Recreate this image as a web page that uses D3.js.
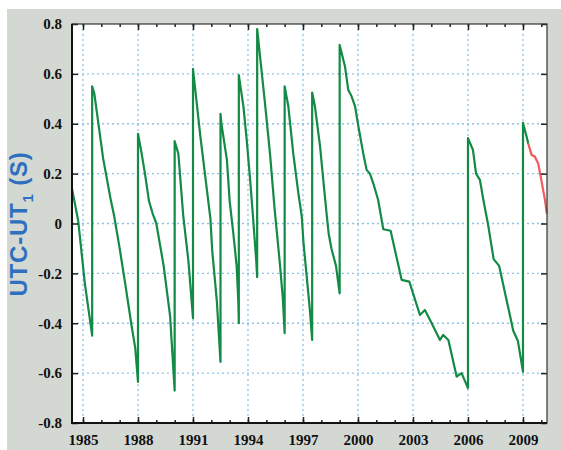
<html>
  <head>
    <meta charset="utf-8"/>
    <style>
      body { margin: 0; background: #fff; }
      .tick text { font-family: "Liberation Serif", serif; font-weight: bold; font-size: 15px; fill: #111; }
    </style>
  </head>
  <body>
    <svg></svg>
  </body>
  <script src="https://d3js.org/d3.v7.min.js"></script>
  <script>
  // measured series (year, seconds); repeated year = leap second jump
  var greenYears = [
    1984.4, 1984.74, 1985.1, 1985.5,
    1985.5, 1985.62, 1986.1, 1986.5, 1986.7, 1987.0, 1987.3, 1987.65, 1987.85, 1988.0,
    1988.0, 1988.2, 1988.4, 1988.6, 1988.8, 1989.0, 1989.4, 1989.75, 1990.0,
    1990.0, 1990.2, 1990.47, 1990.75, 1991.0,
    1991.0, 1991.4, 1991.65, 1991.95, 1992.05, 1992.3, 1992.5,
    1992.5, 1992.55, 1992.85, 1993.0, 1993.2, 1993.38, 1993.47, 1993.5,
    1993.5, 1993.75, 1993.93, 1994.1, 1994.25, 1994.35, 1994.45, 1994.5,
    1994.5, 1994.6, 1994.93, 1995.2, 1995.45, 1995.58, 1995.75, 1995.9, 1996.0,
    1996.0, 1996.2, 1996.47, 1996.75, 1996.93, 1997.03, 1997.2, 1997.38, 1997.5,
    1997.5, 1997.65, 1997.93, 1998.1, 1998.3, 1998.4, 1998.55, 1998.8, 1999.0,
    1999.0, 1999.29, 1999.47, 1999.65, 1999.84, 2000.02, 2000.29, 2000.47, 2000.65, 2000.84,
    2001.1, 2001.38, 2001.78, 2002.38, 2002.8, 2003.38, 2003.65, 2004.02, 2004.47, 2004.65,
    2004.93, 2005.38, 2005.65, 2006.0,
    2006.0, 2006.27, 2006.44, 2006.65, 2006.84, 2007.1, 2007.4, 2007.7, 2008.47, 2008.72, 2009.0,
    2009.0, 2009.1, 2009.2, 2009.29
  ];
  var greenValues = [
    0.14, 0.01, -0.24, -0.45,
    0.55, 0.52, 0.26, 0.10, 0.03, -0.10, -0.24, -0.41, -0.50, -0.635,
    0.36, 0.28, 0.19, 0.09, 0.04, 0.0, -0.17, -0.37, -0.67,
    0.33, 0.28, 0.03, -0.15, -0.38,
    0.62, 0.35, 0.20, 0.02, -0.11, -0.31, -0.555,
    0.44, 0.40, 0.255, 0.09, -0.04, -0.17, -0.31, -0.40,
    0.595, 0.47, 0.335, 0.19, 0.05, -0.05, -0.15, -0.215,
    0.78, 0.71, 0.48, 0.28, 0.06, -0.04, -0.17, -0.30, -0.44,
    0.55, 0.47, 0.28, 0.12, 0.03, -0.08, -0.21, -0.35, -0.467,
    0.525, 0.47, 0.31, 0.18, 0.03, -0.04, -0.10, -0.17, -0.28,
    0.716, 0.63, 0.535, 0.51, 0.47, 0.39, 0.28, 0.215, 0.20, 0.16,
    0.094, -0.023, -0.029, -0.226, -0.233, -0.367, -0.347, -0.40, -0.467, -0.447,
    -0.467, -0.614, -0.60, -0.66,
    0.342, 0.295, 0.20, 0.175, 0.094, -0.006, -0.143, -0.17, -0.43, -0.47, -0.594,
    0.404, 0.375, 0.348, 0.32
  ];
  // predicted part
  var redYears = [2009.29, 2009.47, 2009.65, 2009.83, 2010.0, 2010.2, 2010.3];
  var redValues = [0.32, 0.275, 0.268, 0.24, 0.175, 0.094, 0.04];

  var yearTicks = [1985, 1988, 1991, 1994, 1997, 2000, 2003, 2006, 2009];
  var minorYearTicks = d3.range(1985, 2011);
  var valueTicks = [-0.8, -0.6, -0.4, -0.2, 0, 0.2, 0.4, 0.6, 0.8];

  var W = 561, H = 450;
  var margin = {top: 24, right: 14, bottom: 27, left: 72};
  var width = W - margin.left - margin.right;
  var height = H - margin.top - margin.bottom;

  var svg = d3.select("svg").attr("width", W).attr("height", H);

  svg.append("rect")
    .attr("x", 7).attr("y", 9)
    .attr("width", W - 7).attr("height", H - 9)
    .attr("fill", "#d3d8d3");

  var chart = svg.append("g")
    .attr("transform", "translate(" + margin.left + "," + margin.top + ")");

  chart.append("rect")
    .attr("width", width).attr("height", height)
    .attr("fill", "#fff");

  var x = d3.scaleLinear().domain([1984.4, 2010.31]).range([0, width]);
  var y = d3.scaleLinear().domain([-0.8, 0.8]).range([height, 0]);

  // dotted grid
  chart.append("g").selectAll("line")
    .data(yearTicks).enter().append("line")
    .attr("x1", function(d) { return x(d); }).attr("x2", function(d) { return x(d); })
    .attr("y1", 0).attr("y2", height)
    .attr("stroke", "#8fc3e3").attr("stroke-width", 1.3)
    .attr("stroke-dasharray", "2,3");
  chart.append("g").selectAll("line")
    .data(valueTicks.slice(1, -1)).enter().append("line")
    .attr("y1", function(d) { return y(d); }).attr("y2", function(d) { return y(d); })
    .attr("x1", 0).attr("x2", width)
    .attr("stroke", "#8fc3e3").attr("stroke-width", 1.3)
    .attr("stroke-dasharray", "2,3");

  var line = d3.line()
    .x(function(d) { return x(d[0]); })
    .y(function(d) { return y(d[1]); });

  chart.append("path")
    .datum(d3.zip(greenYears, greenValues))
    .attr("d", line)
    .attr("fill", "none")
    .attr("stroke", "#138a45")
    .attr("stroke-width", 2.2)
    .attr("stroke-linejoin", "round");

  chart.append("path")
    .datum(d3.zip(redYears, redValues))
    .attr("d", line)
    .attr("fill", "none")
    .attr("stroke", "#f05a5a")
    .attr("stroke-width", 2.2);

  function fmt(d) { return d === 0 ? "0" : (d < 0 ? "-" : "") + Math.abs(d).toFixed(1); }

  // minor year ticks, bottom and top
  chart.append("g")
    .attr("transform", "translate(0," + height + ")")
    .call(d3.axisBottom(x).tickValues(minorYearTicks).tickSize(-3).tickSizeOuter(0).tickFormat(""))
    .call(function(g) { g.select(".domain").remove(); });
  chart.append("g")
    .call(d3.axisTop(x).tickValues(minorYearTicks).tickSize(-3).tickSizeOuter(0).tickFormat(""))
    .call(function(g) { g.select(".domain").remove(); });

  chart.append("g")
    .call(d3.axisTop(x).tickValues(yearTicks).tickSize(-6).tickSizeOuter(0).tickFormat(""))
    .call(function(g) { g.select(".domain").remove(); });
  chart.append("g")
    .attr("transform", "translate(" + width + ",0)")
    .call(d3.axisRight(y).tickValues(valueTicks).tickSize(-6).tickSizeOuter(0).tickFormat(""))
    .call(function(g) { g.select(".domain").remove(); });

  chart.append("g")
    .attr("class", "x axis")
    .attr("transform", "translate(0," + height + ")")
    .call(d3.axisBottom(x).tickValues(yearTicks).tickSize(-6).tickSizeOuter(0).tickPadding(11).tickFormat(d3.format("d")))
    .call(function(g) { g.select(".domain").remove(); });

  chart.append("g")
    .attr("class", "y axis")
    .call(d3.axisLeft(y).tickValues(valueTicks).tickSize(-6).tickSizeOuter(0).tickPadding(10).tickFormat(fmt))
    .call(function(g) { g.select(".domain").remove(); });

  chart.selectAll(".tick line").attr("stroke", "#222").attr("stroke-width", 1.5);

  // frame
  chart.append("rect")
    .attr("width", width).attr("height", height)
    .attr("fill", "none").attr("stroke", "#333").attr("stroke-width", 1.2);
  chart.append("path")
    .attr("d", "M0,0V" + height + "H" + width)
    .attr("fill", "none").attr("stroke", "#111").attr("stroke-width", 2);

  var label = svg.append("text")
    .attr("transform", "translate(27,224) rotate(-90)")
    .attr("text-anchor", "middle")
    .attr("font-family", "Liberation Sans, Arial, sans-serif")
    .attr("font-weight", "bold")
    .attr("font-size", 24)
    .attr("letter-spacing", 0.8)
    .attr("fill", "#2e6fc0");
  label.append("tspan").text("UTC-UT");
  label.append("tspan").attr("dy", 6).attr("font-size", 15).text("1");
  label.append("tspan").attr("dy", -6).text(" (S)");
  </script>
</html>
